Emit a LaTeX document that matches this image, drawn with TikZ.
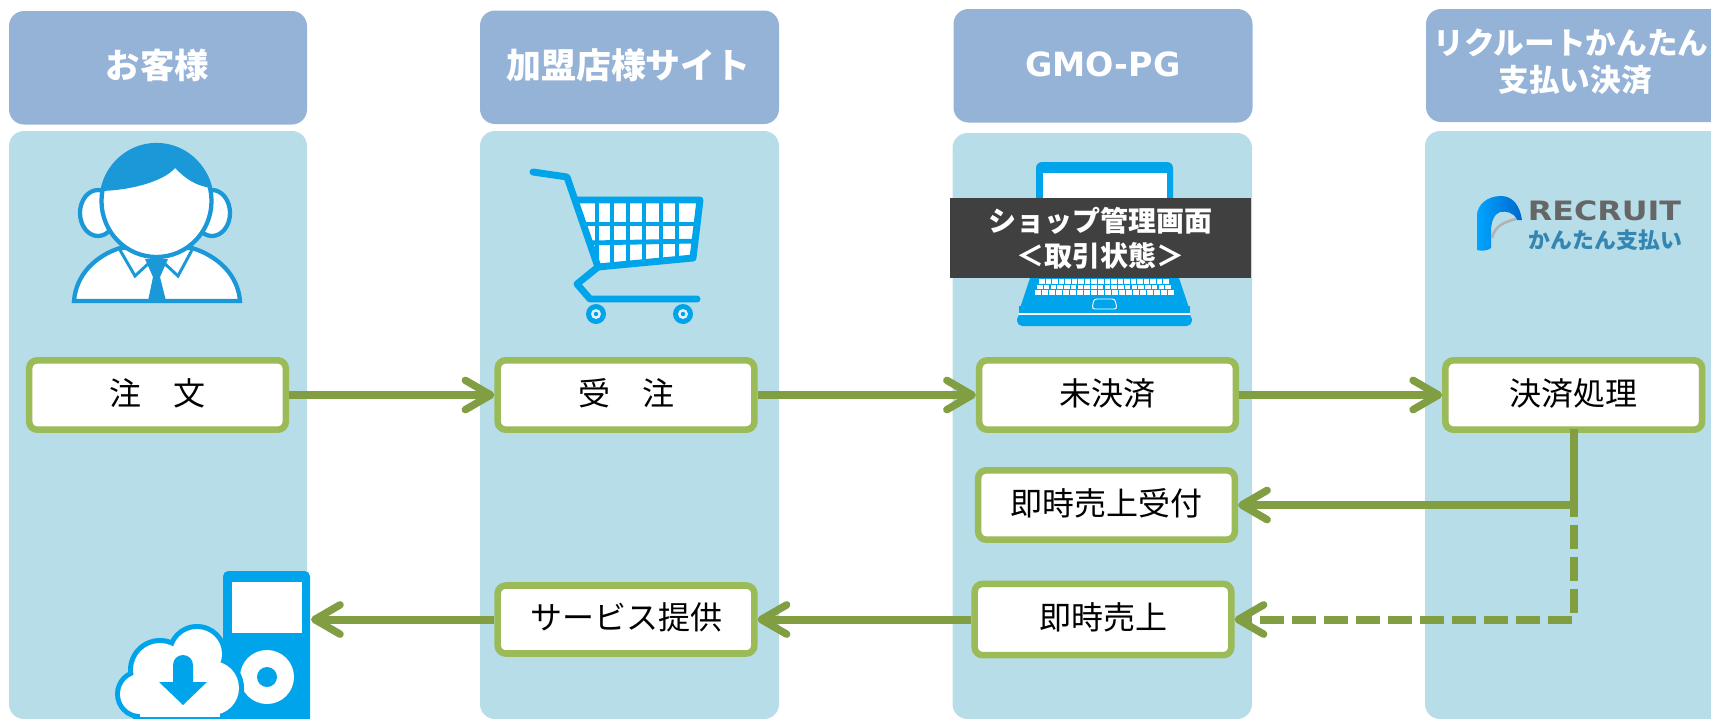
\documentclass[tikz,border=0pt]{standalone}
\usepackage{fontspec}
\usepackage{graphicx}
\usetikzlibrary{arrows.meta}
\setmainfont{Noto Sans CJK JP}
\newfontfamily\latinbold{DejaVu Sans}[Scale=1]
\definecolor{hdblue}{HTML}{95B3D7}
\definecolor{panelblue}{HTML}{B7DDE8}
\definecolor{boxgreen}{HTML}{9BBB59}
\definecolor{arrowgreen}{HTML}{829E42}
\definecolor{iconblue}{HTML}{00A4EA}
\definecolor{personblue}{HTML}{1B98D8}
\definecolor{darklabel}{HTML}{404040}
\tikzset{
  headpanel/.style={fill=hdblue,rounded corners=11.25pt},
  bodypanel/.style={fill=panelblue,rounded corners=11.25pt},
  hdtext/.style={text=white,font=\fontsize{25.8pt}{27pt}\selectfont\bfseries,inner sep=0pt,align=center},
  procbox/.style={draw=boxgreen,line width=4.9pt,fill=white,rounded corners=6pt,minimum width=192.5pt,minimum height=52pt,inner sep=0pt,font=\fontsize{24pt}{26pt}\selectfont,text height=21pt,text depth=6pt},
  flowtip/.tip={Straight Barb[length=19pt,width=22pt,line width=5.6pt,round]},
  flow/.style={draw=arrowgreen,line width=6pt,-{flowtip}},
  flowline/.style={draw=arrowgreen,line width=6pt},
  flowdash/.style={draw=arrowgreen,line width=6pt,dash pattern=on 18pt off 6pt},
}
\begin{document}
\begin{tikzpicture}[x=0.75pt,y=-0.75pt]
\useasboundingbox (0,0) rectangle (1711,718);
\clip (0,0) rectangle (1711,718);
% panels
\path[headpanel] (9,11) rectangle (307,124.5);
\path[headpanel] (480,10.5) rectangle (779,124);
\path[headpanel] (953.5,9) rectangle (1252.5,122.5);
\path[headpanel] (1426,9) rectangle (1760,122);
\path[bodypanel] (9,131) rectangle (307,719);
\path[bodypanel] (480,131) rectangle (779,719);
\path[bodypanel] (952.5,133) rectangle (1252,719);
\path[bodypanel] (1425,131) rectangle (1760,719);
% headers
\node[hdtext] (hA) at (157.5,65) {お客様};
\node[hdtext,font=\fontsize{26.2pt}{27pt}\selectfont\bfseries] (hB) at (628.5,65) {加盟店様サイト};
\node[hdtext,font=\fontsize{25pt}{27pt}\latinbold\bfseries] (hC) at (1103,64) {GMO-PG};
\node[hdtext,font=\fontsize{23pt}{28pt}\selectfont\bfseries] (hD) at (1571,62) {リクルートかんたん\\\hspace*{6pt}支払い決済};
% person icon
\begin{scope}[draw=personblue,line width=3.2pt]
\filldraw[fill=white] (74,301) .. controls (76,275) and (95,256) .. (120,248) -- (192,248) .. controls (218,256) and (238,275) .. (240,301) -- cycle;
\filldraw[fill=white] (98,213) circle[x radius=18,y radius=23];
\filldraw[fill=white] (212,213) circle[x radius=18,y radius=23];
\filldraw[fill=white] (156.5,201) circle[x radius=55,y radius=56];
\fill[personblue] (101,191) .. controls (104,165) and (128,146) .. (156,146) .. controls (184,146) and (208,165) .. (212,188) .. controls (195,186) and (185,178) .. (175,168) .. controls (165,180) and (135,190) .. (101,191) -- cycle;
\draw[line width=2.2pt] (120,250) -- (135,276) -- (150,262);
\draw[line width=2.2pt] (192,250) -- (178,276) -- (163,262);
\fill[personblue] (145,259) -- (168,259) -- (160,277) -- (166,301) -- (148,301) -- (153,277) -- cycle;
\draw (74,301) -- (240,301);
\end{scope}
% cart icon
\begin{scope}
\fill[white] (577,200) -- (700,200) -- (693,258) -- (598,268) -- cycle;
\begin{scope}
\clip (577,200) -- (700,200) -- (693,258) -- (598,268) -- cycle;
\foreach \xv in {597,612,628,644,661,677}{\draw[iconblue,line width=3.6pt] (\xv,198) -- (\xv,270);}
\draw[iconblue,line width=3.6pt] (580,224) -- (700,224);
\draw[iconblue,line width=3.6pt] (585,243) -- (700,241);
\end{scope}
\draw[iconblue,line width=5.2pt,line cap=round,line join=round] (533,172) -- (567,177) -- (598,267) -- (693,258) -- (700,200) -- (577,200);
\draw[iconblue,line width=5.2pt,line cap=round,line join=round] (598,267) -- (577,284) -- (590,299) -- (697,299);
\foreach \xv in {596,683}{
  \fill[iconblue] (\xv,314) circle[radius=10];
  \fill[panelblue!40!white] (\xv,314) circle[radius=5];
  \fill[iconblue] (\xv,314) circle[radius=2.2];
}
\end{scope}
% laptop icon
\fill[iconblue,rounded corners=4.5pt] (1036,162) rectangle (1173,285);
\fill[white] (1043,173) rectangle (1167,200);
\fill[iconblue,rounded corners=3pt] (1031,275) -- (1178,275) -- (1190,311) -- (1019,311) -- cycle;
\fill[iconblue,rounded corners=4pt] (1017,314) -- (1192,314) -- (1192,326) -- (1017,326) -- cycle;
\fill[iconblue] (1019,306) rectangle (1190,318);
\draw[white,line width=0.8pt] (1019,314) -- (1190,314);
\foreach \yv/\xs/\xe in {279/1039/1170,284.5/1037/1172,290/1035/1175}{
  \foreach \i in {0,1,...,19}{
    \fill[white] ({\xs+\i*(\xe-\xs)/20},\yv) rectangle ({\xs+(\i+0.85)*(\xe-\xs)/20},\yv+4.5);
  }
}
\draw[white,line width=0.7pt,rounded corners=2pt] (1094,299) -- (1115,299) -- (1117,309) -- (1092,309) -- cycle;
\node[fill=darklabel,text=white,minimum width=225.75pt,minimum height=60pt,inner sep=0pt,align=center,font=\fontsize{21pt}{26.2pt}\selectfont\bfseries] (shop) at (1100.5,238) {ショップ管理画面\\＜取引状態＞};
% recruit logo
\path[left color=cyan!65!blue,right color=blue!50!cyan!80!black] (1477,250) -- (1477,216) .. controls (1477,204) and (1488,196) .. (1501,196) .. controls (1513,196) and (1520,206) .. (1522,220) -- (1517,220) .. controls (1514,212) and (1506,211) .. (1500,212) .. controls (1494,214) and (1491,222) .. (1491,232) -- (1491,248) .. controls (1488,251) and (1480,251) .. (1477,250) -- cycle;
\draw[gray!60,line width=2pt] (1492,238) .. controls (1495,225) and (1505,222) .. (1516,219);
\node[inner sep=0pt,text=black!60,font=\fontsize{20pt}{22pt}\latinbold\bfseries] (rec) at (1604.5,211) {\scalebox{1.19}[1]{RECRUIT}};
\node[inner sep=0pt,text=blue!35!cyan!55!gray!90!black,font=\fontsize{16.4pt}{18pt}\selectfont\bfseries] (kan) at (1605.5,240) {かんたん支払い};
% player icon
\fill[iconblue,rounded corners=4pt] (223,571) -- (310,571) -- (310,730) -- (223,730) -- cycle;
\fill[white] (232,582) rectangle (302,633);
\fill[white] (267,677) circle[radius=27];
\fill[iconblue] (267,677) circle[radius=10];
\foreach \cx/\cy/\cr in {160/670/32,197/654/30,140/694/25,212/688/32,170/700/35}{
  \fill[iconblue] (\cx,\cy) circle[radius=\cr];
}
\fill[iconblue] (135,700) rectangle (225,720);
\foreach \cx/\cy/\cr in {160/670/27,197/654/25,140/694/20,212/688/27,170/700/30}{
  \fill[white] (\cx,\cy) circle[radius=\cr];
}
\fill[white] (140,700) rectangle (220,720);
\fill[iconblue] (133,716.5) rectangle (223,720);
\fill[iconblue] (173,682) -- (173,665) arc[start angle=180,end angle=360,radius=10] -- (193,682) -- (207,682) -- (183,705) -- (159,682) -- cycle;
\coordinate (player) at (311,619.5);
% process boxes
\node[procbox] (order) at (157.5,395) {注　文};
\node[procbox] (recv) at (626,395) {受　注};
\node[procbox] (unpaid) at (1107.5,395) {未決済};
\node[procbox] (pay) at (1573.7,395) {決済処理};
\node[procbox] (ureg) at (1106.5,505) {即時売上受付};
\node[procbox,minimum height=53.5pt] (sale) at (1103,619.5) {即時売上};
\node[procbox,minimum height=51pt] (svc) at (626,619.5) {サービス提供};
% connectors
\draw[flow] (order.east) -- (recv.west);
\draw[flow] (recv.east) -- (unpaid.west);
\draw[flow] (unpaid.east) -- (pay.west);
\coordinate (j1) at (pay.south |- ureg.east);
\coordinate (j2) at (pay.south |- sale.east);
\draw[flowline] ([yshift=3pt]pay.south) -- (j1);
\draw[flow] (j1) -- (ureg.east);
\draw[flowdash] (j1) ++(0,-12) -- ++(0,120);
\draw[flowdash,-{flowtip}] ([xshift=-1.5pt]j2) -- (sale.east);
\draw[flow] (sale.west) -- (svc.east);
\draw[flow] (svc.west) -- (player);
\end{tikzpicture}
\end{document}
